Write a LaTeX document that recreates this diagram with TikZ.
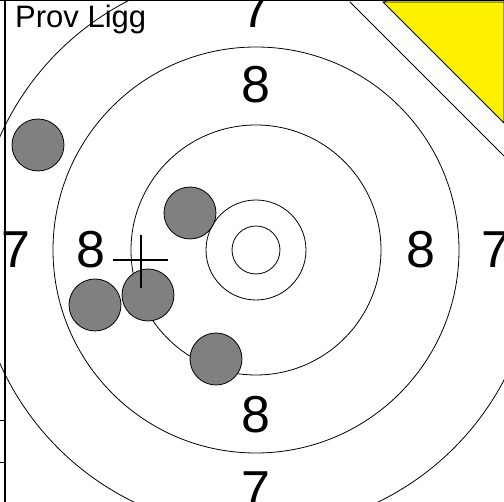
\documentclass[tikz,border=0pt]{standalone}
\usepackage{fontspec}
\setmainfont{Liberation Sans}
\begin{document}
\begin{tikzpicture}[x=1pt,y=1pt,
    ring/.style={line width=0.8pt},
    ringnum/.style={inner sep=0pt,font=\fontsize{52}{52}\selectfont},
    shot/.style={circle,draw=black,line width=0.8pt,fill=gray,minimum size=52pt,inner sep=0pt}]
    \useasboundingbox (-256,-252) rectangle (248,250);
    \clip (-256,-252) rectangle (248,250);
    % rings
    \foreach \r in {24,50,125,203,280}
        \draw[ring] (0,0) circle (\r);
    % ring numbers
    \foreach \a/\d in {n/90,w/180,e/0,s/270} {
        \node[ringnum] (eight\a) at (\d:165) {8};
        \node[ringnum] (seven\a) at (\d:240) {7};
    }
    % shots
    \node[shot] (shotA) at (-218,105) {};
    \node[shot] (shotB) at (-66,37) {};
    \node[shot] (shotC) at (-161,-55) {};
    \node[shot] (shotD) at (-108,-45) {};
    \node[shot] (shotE) at (-40,-109) {};
    % mean point
    \coordinate (mean) at (-115,-10);
    \draw[line width=2pt] ([xshift=-28pt]mean) -- ([xshift=27pt]mean);
    \draw[line width=2pt] ([yshift=25pt]mean) -- ([yshift=-28pt]mean);
    % corner
    \draw[line width=0.8pt] (94,248) -- (248,94);
    \filldraw[fill=yellow,draw=black,line width=0.8pt] (127,248) -- (248,248) -- (248,127) -- cycle;
    % frame
    \draw[line width=1.2pt] (-256,249.5) -- (248,249.5);
    \draw[line width=1.5pt] (-251,250) -- (-251,-252);
    \draw[line width=0.8pt] (-256,-170) -- (-251,-170);
    \draw[line width=0.8pt] (-256,-212) -- (-251,-212);
    \node[anchor=base west,inner sep=0pt,font=\fontsize{31}{31}\selectfont] (title) at (-241,222) {Prov Ligg};
\end{tikzpicture}
\end{document}
